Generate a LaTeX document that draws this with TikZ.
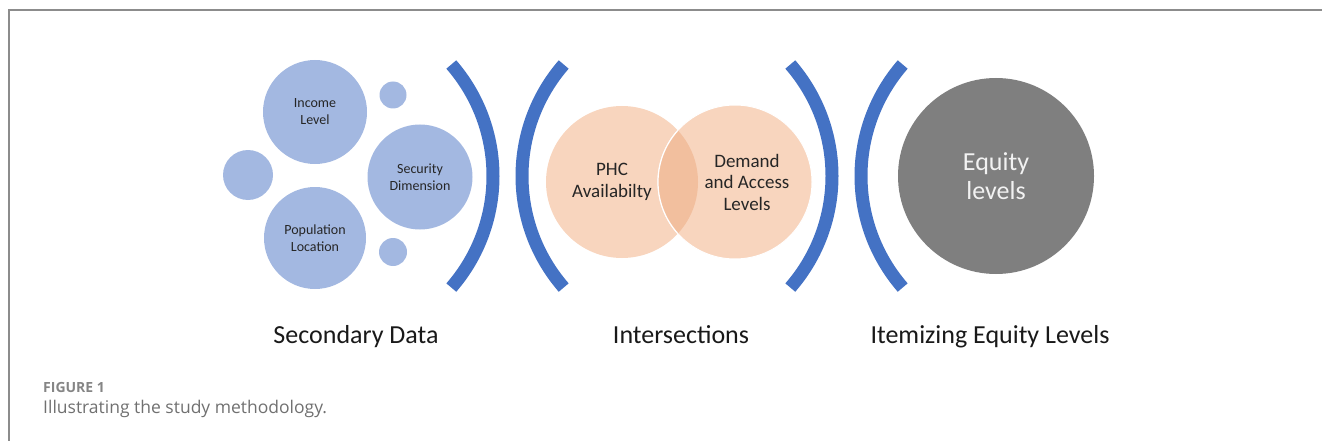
\documentclass[tikz,border=0pt]{standalone}
\usepackage{fontspec}
\setmainfont{Carlito}
\newfontfamily\capfont{Open Sans}
\definecolor{bubble}{HTML}{A3B8E1}
\definecolor{bracketblue}{HTML}{4472C4}
\definecolor{peach}{HTML}{F8D5BE}
\definecolor{peachdark}{HTML}{F2BF9E}
\definecolor{eqgray}{HTML}{7F7F7F}
\definecolor{framegray}{HTML}{8C8C8C}
\definecolor{capgray}{HTML}{707070}
\begin{document}
\begin{tikzpicture}[x=1pt,y=-1pt,
  bub/.style={circle,fill=bubble,inner sep=0pt,minimum size=#1,align=center,font=\fontsize{14}{17}\selectfont,text=black!85},
  brk/.style={draw=bracketblue,line width=13pt},
  venntext/.style={align=center,font=\fontsize{19}{21.5}\selectfont,text=black!85},
  steplabel/.style={font=\fontsize{26}{30}\selectfont,text=black!90,anchor=base},
]
\useasboundingbox (0,0) rectangle (1322,441);
% frame
\draw[framegray,line width=2pt] (9,441) -- (9,10) -- (1322,10);
% bubbles
\node[bub=104pt] (income) at (315,112) {Income\\Level};
\node[bub=105pt] (security) at (420,177) {Security\\Dimension};
\node[bub=102pt] (population) at (315,238) {Population\\Location};
\node[bub=50pt] (leftbub) at (248,175) {};
\node[bub=27pt] (topbub) at (393,95) {};
\node[bub=28pt] (botbub) at (393,252) {};
% brackets
\draw[brk] (451.3,64.5) arc[start angle=41,end angle=-41,radius=170pt];
\draw[brk] (563.7,64.5) arc[start angle=139,end angle=221,radius=170pt];
\draw[brk] (790.3,64.5) arc[start angle=41,end angle=-41,radius=170pt];
\draw[brk] (902.7,64.5) arc[start angle=139,end angle=221,radius=170pt];
% venn
\fill[peach] (622,182) circle[radius=76pt];
\draw[white,line width=1pt,fill=peach] (735,182) circle[radius=77pt];
\begin{scope}
  \clip (622,182) circle[radius=76pt];
  \draw[white,line width=1.2pt,fill=peachdark] (735,182) circle[radius=77pt];
\end{scope}
\node[venntext] (phc) at (612,182) {PHC\\Availabilty};
\node[venntext] (demand) at (747,182) {Demand\\and Access\\Levels};
% equity
\node[circle,fill=eqgray,minimum size=196pt,inner sep=0pt,align=center,
  font=\fontsize{26}{29}\selectfont,text=white!95!black] (equity) at (996,176) {Equity\\levels};
% bottom labels
\node[steplabel] (sec) at (356,343) {Secondary Data};
\node[steplabel] (inter) at (681,343) {Intersections};
\node[steplabel] (item) at (990,343) {Itemizing Equity Levels};
% caption
\node[anchor=base west,inner sep=0pt,font=\capfont\fontsize{14}{17}\selectfont\bfseries,text=capgray!85] (fig) at (43,392.7) {FIGURE 1};
\node[anchor=base west,inner sep=0pt,font=\capfont\fontsize{17.5}{21}\selectfont,text=capgray] (cap) at (43,413) {Illustrating the study methodology.};
\end{tikzpicture}
\end{document}
